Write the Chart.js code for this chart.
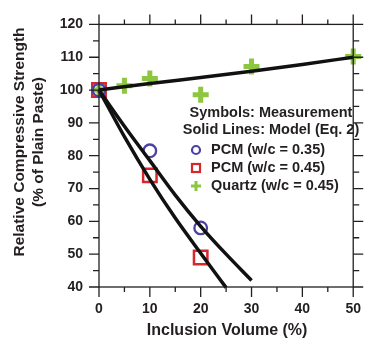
<!DOCTYPE html>
<html><head><meta charset="utf-8">
<script src="https://cdn.jsdelivr.net/npm/chart.js@4/dist/chart.umd.min.js"></script>
<style>html,body{margin:0;padding:0;background:#fff}#wrap{width:375px;height:345px}</style>
</head><body><div id="wrap"><canvas id="c" width="375" height="345"></canvas></div>
<script>
// ---- data ----
const pcm35X = [0, 10, 20];
const pcm35Y = [100, 81.5, 58];
const pcm45X = [0, 10, 20];
const pcm45Y = [100, 74, 49];
const quartzX = [0, 5, 10, 20, 30, 50];
const quartzY = [100, 101.3, 103.5, 98.6, 107.2, 110.2];
const model35X = [0, 5, 10, 15, 20, 25, 30];
const model35Y = [100, 89, 78.5, 68, 58.5, 50, 42];
const model45X = [0, 5, 10, 15, 20, 25];
const model45Y = [100, 85.8, 72.8, 61, 50.3, 39.8];
const modelQX = [0, 10, 20, 30, 40, 50];
const modelQY = [100, 102, 103.8, 105.7, 107.8, 110];
const xTicks = [0, 10, 20, 30, 40, 50];
const yTicks = [40, 50, 60, 70, 80, 90, 100, 110, 120];
const xTitle = 'Inclusion Volume (%)';
const yTitle = ['Relative Compressive Strength', '(% of Plain Paste)'];
const legendHead = ['Symbols: Measurement', 'Solid Lines: Model (Eq. 2)'];
const legendItems = ['PCM (w/c = 0.35)', 'PCM (w/c = 0.45)', 'Quartz (w/c = 0.45)'];

const pts = (xs, ys) => xs.map((x, i) => ({x, y: ys[i]}));
const TXT = '#231f20';
const BLUE = '#4a42a4', RED = '#d6282c', GREEN = '#8dc63f';
const FONT = '"Liberation Sans", Arial, sans-serif';

const decor = {
  id: 'decor',
  afterDraw(chart) {
    const ctx = chart.ctx, xs = chart.scales.x, ys = chart.scales.y;
    const a = chart.chartArea;
    ctx.save();
    ctx.strokeStyle = TXT; ctx.lineWidth = 1.3;
    // frame
    ctx.strokeRect(a.left, a.top, a.right - a.left, a.bottom - a.top);
    // ticks
    for (let v = 0; v <= 50; v += 5) {
      const p = xs.getPixelForValue(v), L = v % 10 === 0 ? 10 : 5;
      ctx.beginPath();
      ctx.moveTo(p, a.bottom); ctx.lineTo(p, a.bottom + L);
      ctx.moveTo(p, a.top); ctx.lineTo(p, a.top - L);
      ctx.stroke();
    }
    for (let v = 40; v <= 120; v += 5) {
      const p = ys.getPixelForValue(v), L = v % 10 === 0 ? 10 : 6;
      ctx.beginPath();
      ctx.moveTo(a.left, p); ctx.lineTo(a.left - L, p);
      ctx.moveTo(a.right, p); ctx.lineTo(a.right + L, p);
      ctx.stroke();
    }
    // titles
    ctx.fillStyle = TXT;
    ctx.font = 'bold 16px ' + FONT;
    ctx.textAlign = 'center'; ctx.textBaseline = 'middle';
    ctx.fillText(xTitle, (a.left + a.right) / 2 + 1, 331);
    ctx.save();
    ctx.translate(20, 142); ctx.rotate(-Math.PI / 2);
    ctx.font = 'bold 15.5px ' + FONT;
    ctx.fillText(yTitle[0], 0, 0);
    ctx.fillText(yTitle[1], 0, 19);
    ctx.restore();
    // legend
    ctx.font = 'bold 14.5px ' + FONT;
    ctx.textAlign = 'center';
    ctx.fillText(legendHead[0], 271, 113);
    ctx.fillText(legendHead[1], 271, 130);
    ctx.textAlign = 'left';
    const ly = [150, 168, 186];
    legendItems.forEach((t, i) => ctx.fillText(t, 211, ly[i]));
    const mx = 196;
    ctx.lineWidth = 2.2; ctx.strokeStyle = BLUE;
    ctx.beginPath(); ctx.arc(mx, ly[0], 4, 0, Math.PI * 2); ctx.stroke();
    ctx.strokeStyle = RED;
    ctx.strokeRect(mx - 4, ly[1] - 4, 8, 8);
    ctx.strokeStyle = GREEN; ctx.lineWidth = 3;
    ctx.beginPath();
    ctx.moveTo(mx - 5, ly[2]); ctx.lineTo(mx + 5, ly[2]);
    ctx.moveTo(mx, ly[2] - 5); ctx.lineTo(mx, ly[2] + 5);
    ctx.stroke();
    ctx.restore();
  }
};

const lineDs = (d) => ({data: d, showLine: true, pointRadius: 0, borderColor: '#111', borderWidth: 3.5,
  cubicInterpolationMode: 'monotone', fill: false, order: 0});

new Chart(document.getElementById('c'), {
  type: 'scatter',
  data: {
    datasets: [
      {data: pts(quartzX, quartzY), pointStyle: 'cross', pointRadius: 8, borderColor: GREEN, pointBorderWidth: 5, showLine: false, order: 3},
      {data: pts(pcm45X, pcm45Y), pointStyle: 'rect', pointRadius: 9.5, borderColor: RED, backgroundColor: 'rgba(0,0,0,0)', pointBorderWidth: 2.5, showLine: false, order: 2},
      {data: pts(pcm35X, pcm35Y), pointStyle: 'circle', pointRadius: 6.3, borderColor: BLUE, backgroundColor: 'rgba(0,0,0,0)', pointBorderWidth: 2.3, showLine: false, order: 1},
      lineDs(pts(model35X, model35Y)),
      lineDs(pts(model45X, model45Y)),
      lineDs(pts(modelQX, modelQY))
    ]
  },
  options: {
    responsive: false, animation: false, devicePixelRatio: 1,
    layout: {padding: {top: 17, right: 7, left: 0, bottom: 0}},
    clip: false,
    plugins: {legend: {display: false}, tooltip: {enabled: false}},
    scales: {
      x: {
        type: 'linear', min: 0, max: 50,
        afterFit: s => { s.height = 58; },
        afterBuildTicks: s => { s.ticks = xTicks.map(v => ({value: v})); },
        grid: {display: false, drawTicks: false},
        border: {display: false},
        ticks: {color: TXT, padding: 14, maxRotation: 0, font: {family: FONT, size: 14, weight: 'bold'}}
      },
      y: {
        type: 'linear', min: 40, max: 120,
        afterFit: s => { s.width = 99; },
        afterBuildTicks: s => { s.ticks = yTicks.map(v => ({value: v})); },
        grid: {display: false, drawTicks: false},
        border: {display: false},
        ticks: {color: TXT, padding: 16, font: {family: FONT, size: 14, weight: 'bold'}}
      }
    }
  },
  plugins: [decor]
});
</script></body></html>
